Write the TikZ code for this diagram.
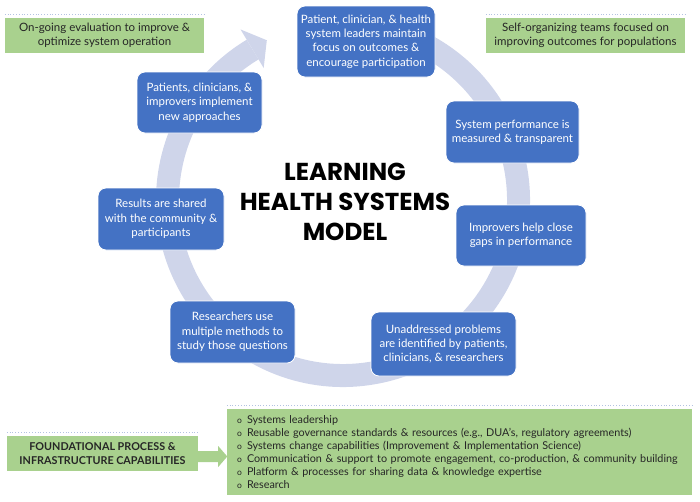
\documentclass[tikz,border=0pt]{standalone}
\usepackage{fontspec}
\setmainfont{Lato}
\newfontfamily\titlefont{Poppins}
\usetikzlibrary{calc}
\definecolor{ringcol}{RGB}{207,213,234}
\definecolor{boxblue}{RGB}{68,114,196}
\definecolor{boxgreen}{RGB}{169,209,142}
\definecolor{dotline}{RGB}{180,195,225}
\newcommand{\capbul}{\makebox[10pt][l]{\raisebox{0.3pt}{\fontsize{8.5}{10}\selectfont o}}}
\begin{document}
\begin{tikzpicture}[x=1pt,y=-1pt,
  bluebox/.style={fill=boxblue, draw=white, line width=0.8pt, rounded corners=8pt, text=white, align=center, font=\fontsize{11.5}{14.3}\selectfont, inner sep=2pt},
  greenbox/.style={fill=boxgreen, draw=none, align=center, font=\fontsize{11.5}{14}\selectfont, text=black!85, inner sep=0pt},
  dotrule/.style={dotline, dotted, line width=0.8pt}
]
\useasboundingbox (0,0) rectangle (700,501);
% ring
\begin{scope}[shift={(343,200)}, yscale=-1]
\draw[ringcol, line width=23pt] (100:175.5) arc[start angle=100, end angle=-239, radius=175.5];
\fill[ringcol] (121:154) -- (115.5:177) -- (121:199) -- cycle;
\end{scope}
% title
\node[font=\titlefont\bfseries\fontsize{24.5}{30}\selectfont, align=center] (title) at (345,202) {LEARNING\\HEALTH SYSTEMS\\MODEL};
% blue boxes
\node[bluebox, minimum width=138pt, minimum height=71pt] (top) at (366,41.5) {Patient, clinician, \& health\\system leaders maintain\\focus on outcomes \&\\encourage participation};
\node[bluebox, minimum width=133pt, minimum height=62pt] (perf) at (512.5,132) {System performance is\\measured \& transparent};
\node[bluebox, minimum width=130pt, minimum height=61pt] (gaps) at (521,235.5) {Improvers help close\\gaps in performance};
\node[bluebox, minimum width=145pt, minimum height=64pt] (unadd) at (443.5,344) {Unaddressed problems\\are identified by patients,\\clinicians, \& researchers};
\node[bluebox, minimum width=125pt, minimum height=62pt] (research) at (232.5,332) {Researchers use\\multiple methods to\\study those questions};
\node[bluebox, minimum width=126pt, minimum height=62pt] (results) at (161,219) {Results are shared\\with the community \&\\participants};
\node[bluebox, minimum width=125pt, minimum height=61pt] (impl) at (199.5,102.5) {Patients, clinicians, \&\\improvers implement\\new approaches};
% green boxes
\node[greenbox, minimum width=199pt, minimum height=35pt] (eval) at (104.5,35.5) {On-going evaluation to improve \&\\optimize system operation};
\node[greenbox, minimum width=199pt, minimum height=35pt] (self) at (585.5,35.5) {Self-organizing teams focused on\\improving outcomes for populations};
\node[greenbox, minimum width=191pt, minimum height=35pt, font=\bfseries\fontsize{10.8}{14}\selectfont] (found) at (102.5,453.5) {FOUNDATIONAL PROCESS \&\\INFRASTRUCTURE CAPABILITIES};
\node[greenbox, align=left, text width=445pt, inner xsep=10pt, minimum width=465pt, minimum height=86pt, font=\fontsize{10.8}{13}\selectfont] (caps) at (459.5,452) {%
\capbul Systems leadership\\
\capbul Reusable governance standards \& resources (e.g., DUA’s, regulatory agreements)\\
\capbul Systems change capabilities (Improvement \& Implementation Science)\\
\capbul Communication \& support to promote engagement, co-production, \& community building\\
\capbul Platform \& processes for sharing data \& knowledge expertise\\
\capbul Research};
% dotted rules above green boxes
\foreach \b in {eval,self,found,caps}
  \draw[dotrule] ($(\b.north west)+(0,-3)$) -- ($(\b.north east)+(0,-3)$);
% block arrow
\coordinate (atip) at ($(caps.west)+(0.5,4.5)$);
\coordinate (abase) at (found.east |- atip);
\fill[boxgreen] ($(abase)+(0,-5.5)$) -- ++(20,0) -- ++(0,-5) -- (atip) -- ($(abase)+(20,10.5)$) -- ++(0,-5) -- ($(abase)+(0,5.5)$) -- cycle;
\end{tikzpicture}
\end{document}
